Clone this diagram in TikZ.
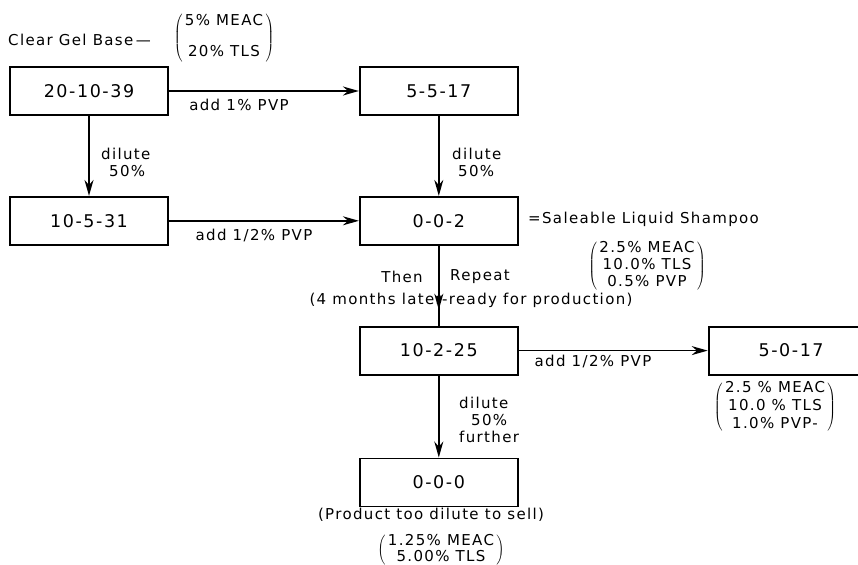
\documentclass[tikz,border=0pt]{standalone}
\usepackage{fontspec}
\setmainfont[LetterSpace=9]{DejaVu Sans}
\usetikzlibrary{arrows.meta,positioning,decorations.markings}

\begin{document}
\begin{tikzpicture}[x=1pt,y=-1pt,
  font=\fontsize{15}{17}\selectfont,
  box/.style={draw,line width=1.8pt,minimum width=158pt,minimum height=48pt,inner sep=0pt,font=\fontsize{17.5}{20}\selectfont},
  arrow/.style={-{Stealth[length=16pt,width=9pt]},line width=1.7pt},
  midtip/.style={line width=1.7pt,postaction={decorate},
    decoration={markings,mark=at position 0.8 with {\arrow{Stealth[length=16pt,width=9pt]}}}},
  lbl/.style={inner sep=0pt}
]
\useasboundingbox (0,0) rectangle (858,564);

% boxes
\node[box] (b201039) at (89,91) {20-10-39};
\node[box,right=190pt of b201039] (b5517) {5-5-17};
\node[box,below=80pt of b201039] (b10531) {10-5-31};
\node[box,below=80pt of b5517] (b002) {0-0-2};
\node[box,below=80pt of b002] (b10225) {10-2-25};
\node[box,right=189pt of b10225,minimum width=165pt] (b5017) {5-0-17};
\node[box,below=82pt of b10225] (b000) {0-0-0};

% texts
\node[lbl,anchor=west] (gel) at (8,40) {Clear Gel Base\,—};
\node[lbl] (gelmix) at (224,38) {$\left(\,\begin{tabular}{@{}c@{}}5\% MEAC\\[14pt]20\% TLS\end{tabular}\,\right)$};
\node[lbl] (add1) at (239,105) {add 1\% PVP};
\node[lbl,anchor=west,align=left] (dil1) at (101,162) {dilute\\\hspace*{8pt}50\%};
\node[lbl,anchor=west,align=left] (dil2) at (452,162) {dilute\\\hspace*{6pt}50\%};
\node[lbl] (add2) at (254,235) {add 1/2\% PVP};
\node[lbl,anchor=west] (sale) at (528,219) {=Saleable Liquid Shampoo};
\node[lbl] (salemix) at (647,266) {$\left(\,\begin{tabular}{@{}c@{}}2.5\% MEAC\\10.0\% TLS\\0.5\% PVP\end{tabular}\,\right)$};
\node[lbl] (then) at (402,277) {Then};
\node[lbl] (repeat) at (480,277) {Repeat};
\node[lbl] (later) at (471,300) {(4 months later-ready for production)};
\node[lbl] (add3) at (593,361) {add 1/2\% PVP};
\node[lbl] (mix5017) at (775,407) {$\left(\,\begin{tabular}{@{}c@{}}2.5 \% MEAC\\[1pt]10.0 \% TLS\\[1pt]1.0\% PVP-\end{tabular}\,\right)$};
\node[lbl,anchor=west,align=left] (dil3) at (459,420) {dilute\\\hspace*{12pt}50\%\\further};
\node[lbl] (dilute) at (431,515) {(Product too dilute to sell)};
\node[lbl,font=\fontsize{15}{15}\selectfont] (mix000) at (441,550) {$\left(\,\begin{tabular}{@{}c@{}}1.25\% MEAC\\5.00\% TLS\end{tabular}\,\right)$};

% connectors
\draw[arrow] (b201039) -- (b5517);
\draw[arrow] (b201039) -- (b10531);
\draw[arrow] (b5517) -- (b002);
\draw[arrow] (b10531) -- (b002);
\draw[midtip] (b002) -- (b10225);
\draw[arrow] (b10225) -- (b5017);
\draw[arrow] (b10225) -- (b000);
\end{tikzpicture}
\end{document}
